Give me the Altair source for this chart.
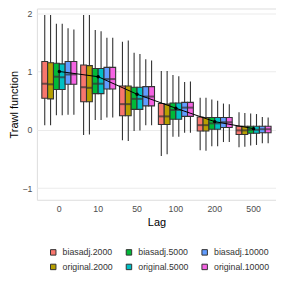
import altair as alt
import pandas as pd

lags = ["0", "10", "50", "100", "200", "500"]
series = ["biasadj.2000", "original.2000", "biasadj.5000",
          "original.5000", "biasadj.10000", "original.10000"]
colors = ["#F8766D", "#B79F00", "#00BA38", "#00BFC4", "#619CFF", "#F564E3"]

# per lag: values for the six series (in the order of `series`)
whisk_lo = [
    [0.08, 0.08, 0.25, 0.25, 0.26, 0.26],
    [-0.09, -0.08, 0.17, 0.17, 0.21, 0.21],
    [-0.18, -0.19, -0.02, -0.01, 0.08, 0.08],
    [-0.45, -0.42, -0.12, -0.12, -0.05, -0.05],
    [-0.35, -0.36, -0.28, -0.28, -0.21, -0.21],
    [-0.30, -0.29, -0.27, -0.26, -0.23, -0.23],
]
q1 = [
    [0.54, 0.53, 0.69, 0.69, 0.78, 0.78],
    [0.48, 0.48, 0.62, 0.62, 0.70, 0.70],
    [0.24, 0.24, 0.35, 0.35, 0.41, 0.41],
    [0.09, 0.09, 0.18, 0.18, 0.23, 0.23],
    [-0.02, -0.02, 0.01, 0.01, 0.04, 0.04],
    [-0.08, -0.08, -0.06, -0.06, -0.05, -0.05],
]
median = [
    [0.79, 0.78, 0.91, 0.90, 0.95, 0.95],
    [0.73, 0.72, 0.79, 0.79, 0.87, 0.87],
    [0.44, 0.44, 0.53, 0.53, 0.57, 0.57],
    [0.23, 0.23, 0.34, 0.34, 0.38, 0.38],
    [0.08, 0.08, 0.11, 0.11, 0.13, 0.13],
    [-0.01, -0.01, 0.00, 0.00, 0.01, 0.01],
]
q3 = [
    [1.17, 1.15, 1.14, 1.13, 1.17, 1.17],
    [1.11, 1.10, 1.05, 1.05, 1.07, 1.07],
    [0.75, 0.75, 0.73, 0.73, 0.74, 0.74],
    [0.45, 0.44, 0.46, 0.46, 0.47, 0.47],
    [0.22, 0.21, 0.21, 0.21, 0.21, 0.21],
    [0.06, 0.06, 0.06, 0.06, 0.06, 0.06],
]
whisk_hi = [
    [1.97, 1.97, 1.82, 1.82, 1.74, 1.72],
    [1.97, 1.97, 1.71, 1.69, 1.58, 1.58],
    [1.51, 1.53, 1.32, 1.30, 1.21, 1.19],
    [1.01, 1.01, 0.94, 0.92, 0.82, 0.83],
    [0.55, 0.55, 0.52, 0.50, 0.45, 0.44],
    [0.30, 0.29, 0.28, 0.27, 0.22, 0.21],
]
true_trawl = [1.0, 0.91, 0.61, 0.37, 0.14, 0.02]

rows = []
for i, lag in enumerate(lags):
    for j, s in enumerate(series):
        rows.append(dict(lag=lag, series=s, lo=whisk_lo[i][j], q1=q1[i][j],
                         med=median[i][j], q3=q3[i][j], hi=whisk_hi[i][j]))
df = pd.DataFrame(rows)
df_true = pd.DataFrame({"lag": lags, "val": true_trawl})

FONT = "Liberation Sans"
x_enc = alt.X("lag:N", sort=lags, title="Lag",
              scale=alt.Scale(paddingInner=0.1, paddingOuter=0.127),
              axis=alt.Axis(bandPosition=0.5, ticks=False, tickSize=0, domain=False,
                            labelAngle=0, labelPadding=5, labelFontSize=8.8,
                            labelColor="#4D4D4D", titleFontSize=11, titleFontWeight="normal",
                            titleColor="#000000", titlePadding=3, gridColor="#EBEBEB",
                            gridWidth=1.1))
xoff = alt.XOffset("series:N", sort=series,
                   scale=alt.Scale(paddingInner=0, paddingOuter=0))
y_scale = alt.Scale(domain=[-1.2, 2.08], nice=False, zero=False)
y_axis = alt.Axis(values=[-1, -0.5, 0, 0.5, 1, 1.5, 2], format="d",
                  labelExpr="datum.value % 1 === 0 ? datum.label : ''",
                  ticks=False, tickSize=0, domain=False, labelPadding=5,
                  labelFontSize=8.8, labelColor="#4D4D4D", titleFontSize=11,
                  titleFontWeight="normal", titleColor="#000000", titlePadding=2,
                  gridColor="#EBEBEB",
                  gridWidth={"condition": {"test": "datum.value % 1 === 0", "value": 1.1},
                             "value": 0.55})

base = alt.Chart(df)
whiskers = base.mark_rule(color="#333333", strokeWidth=1.1).encode(
    x=x_enc, xOffset=xoff,
    y=alt.Y("lo:Q", scale=y_scale, axis=y_axis, title="Trawl function"),
    y2="hi:Q")
boxes = base.mark_bar(stroke="#333333", strokeWidth=1.1).encode(
    x=x_enc, xOffset=xoff,
    y="q1:Q", y2="q3:Q",
    color=alt.Color("series:N", scale=alt.Scale(domain=series, range=colors),
                    legend=alt.Legend(title=None, orient="none", legendX=12, legendY=240,
                                      columns=3, symbolType="square", symbolSize=30,
                                      symbolStrokeColor="#333333", symbolStrokeWidth=1,
                                      labelFontSize=8.8, labelColor="#333333",
                                      labelOffset=5, columnPadding=10, rowPadding=4)))
meds = base.mark_tick(color="#333333", thickness=2, size=5.8).encode(
    x=x_enc, xOffset=xoff, y="med:Q")
line = alt.Chart(df_true).mark_line(color="black", strokeWidth=1).encode(
    x=alt.X("lag:N", sort=lags), y="val:Q")
pts = alt.Chart(df_true).mark_circle(color="black", size=12, opacity=1).encode(
    x=alt.X("lag:N", sort=lags), y="val:Q")

chart = alt.layer(whiskers, boxes, meds, line, pts).properties(
    width=240, height=192, padding=0
).configure_view(stroke=None).configure(font=FONT)

chart.save("out.html", embed_options={"renderer": "svg", "actions": False})
